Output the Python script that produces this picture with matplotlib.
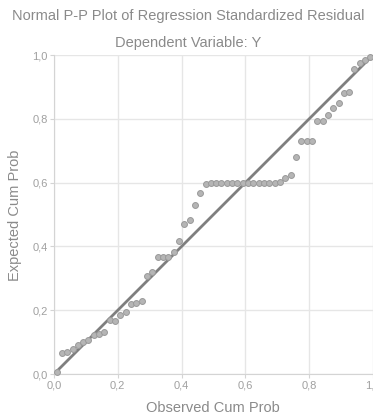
import matplotlib.pyplot as plt

# Normal P-P plot of regression standardized residual
observed = [0.008, 0.025, 0.042, 0.058, 0.075, 0.092, 0.108, 0.125, 0.142, 0.158,
            0.175, 0.192, 0.208, 0.225, 0.242, 0.258, 0.275, 0.292, 0.308, 0.325,
            0.342, 0.358, 0.375, 0.392, 0.408, 0.425, 0.442, 0.458, 0.475, 0.492,
            0.508, 0.525, 0.542, 0.558, 0.575, 0.592, 0.608, 0.625, 0.642, 0.658,
            0.675, 0.692, 0.708, 0.725, 0.742, 0.758, 0.775, 0.792, 0.808, 0.825,
            0.842, 0.858, 0.875, 0.892, 0.908, 0.925, 0.942, 0.958, 0.975, 0.992]
expected = [0.005, 0.065, 0.070, 0.077, 0.092, 0.100, 0.106, 0.123, 0.124, 0.131,
            0.168, 0.167, 0.184, 0.195, 0.221, 0.223, 0.228, 0.306, 0.319, 0.367,
            0.367, 0.367, 0.381, 0.418, 0.470, 0.483, 0.529, 0.569, 0.597, 0.598,
            0.598, 0.598, 0.598, 0.598, 0.598, 0.598, 0.598, 0.598, 0.598, 0.598,
            0.598, 0.598, 0.601, 0.614, 0.624, 0.679, 0.730, 0.730, 0.731, 0.793,
            0.793, 0.811, 0.835, 0.851, 0.880, 0.885, 0.955, 0.974, 0.985, 0.993]
ref_line = [0.0, 1.0]
ticks = [0.0, 0.2, 0.4, 0.6, 0.8, 1.0]
tick_labels = ['0,0', '0,2', '0,4', '0,6', '0,8', '1,0']

plt.rcParams['font.family'] = ['Liberation Sans', 'DejaVu Sans']

fig = plt.figure(figsize=(3.73, 4.17), dpi=100)
ax = fig.add_axes([0.1448, 0.1031, 0.8552, 0.7649])

ax.plot(ref_line, ref_line, color='#7f7f7f', linewidth=2.0, zorder=2)
ax.scatter(observed, expected, s=18, color='#b5b5b5', edgecolors='#999999',
           linewidths=0.7, zorder=3, clip_on=False)

ax.set_xlim(0, 1)
ax.set_ylim(0, 1)
ax.set_xticks(ticks)
ax.set_xticklabels(tick_labels)
ax.set_yticks(ticks)
ax.set_yticklabels(tick_labels)
ax.grid(True, color='#e6e6e6', linewidth=1.0)
ax.set_axisbelow(True)
for side in ['top', 'right']:
    ax.spines[side].set_visible(False)
for side in ['left', 'bottom']:
    ax.spines[side].set_color('#d4d4d4')
ax.tick_params(colors='#d4d4d4', labelcolor='#a0a0a0', labelsize=8, length=3,
               width=0.8, pad=1.5)

fig.text(0.571, 0.022, 'Observed Cum Prob', ha='center', va='center',
         fontsize=10.5, color='#8a8a8a')
fig.text(0.040, 0.484, 'Expected Cum Prob', ha='center', va='center',
         rotation=90, fontsize=10.5, color='#8a8a8a')

fig.text(0.505, 0.962, 'Normal P-P Plot of Regression Standardized Residual',
         ha='center', va='center', fontsize=10.5, color='#8a8a8a')
fig.text(0.505, 0.897, 'Dependent Variable: Y',
         ha='center', va='center', fontsize=10.5, color='#8a8a8a')

fig.savefig('out.png', dpi=100)
